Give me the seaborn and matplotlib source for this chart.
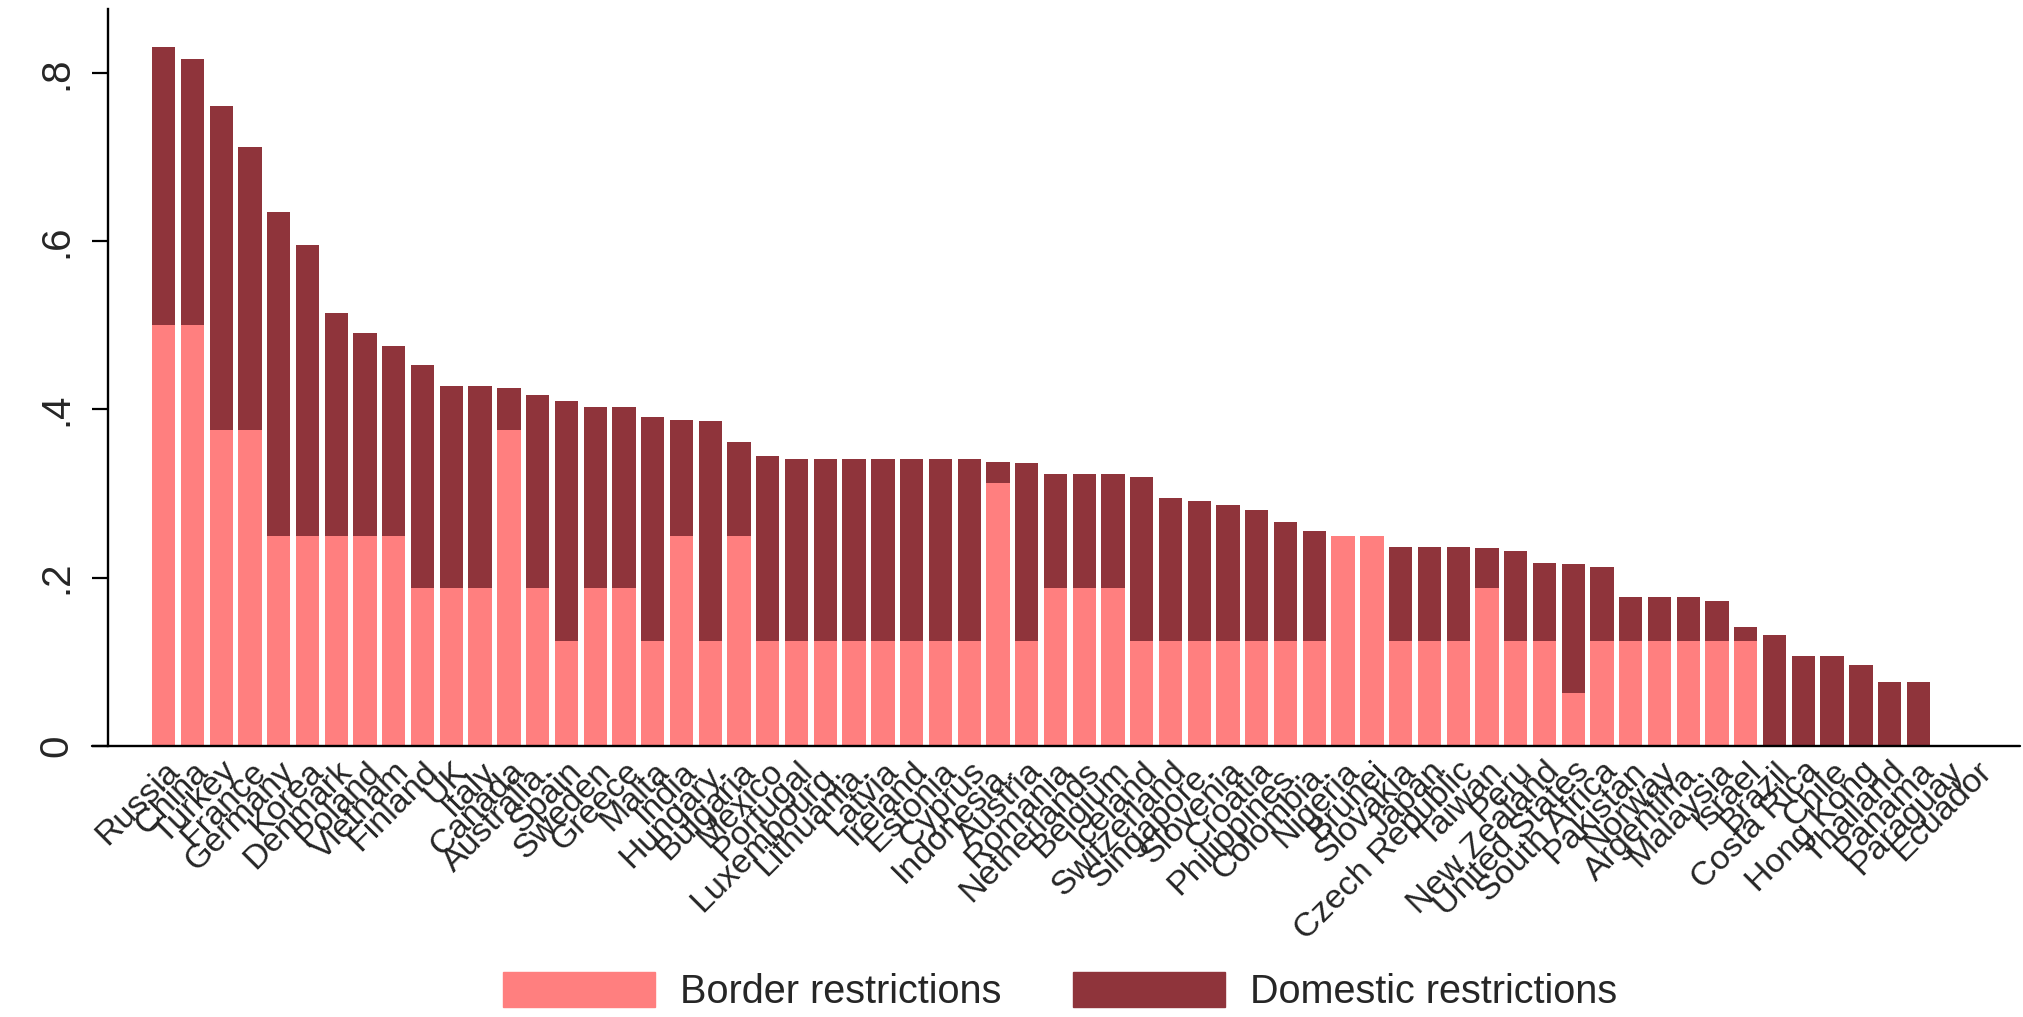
import matplotlib
matplotlib.use("Agg")
import pandas as pd
import matplotlib.pyplot as plt
import seaborn as sns
from matplotlib.patches import Patch

# Дані
countries = [
    "Russia", "China", "Turkey", "France", "Germany", "Korea", "Denmark", "Poland",
    "Vietnam", "Finland", "UK", "Italy", "Canada", "Australia.", "Spain", "Sweden",
    "Greece", "Malta", "India", "Hungary.", "Bulgaria", "Mexico", "Portugal",
    "Luxembourg.", "Lithuania.", "Latvia", "Ireland", "Estonia", "Cyprus",
    "Indonesia.", "Austria", "Romania", "Netherlands", "Belgium", "Iceland",
    "Switzerland", "Singapore.", "Slovenia", "Croatia", "Philippines.", "Colombia.",
    "Nigeria", "Brunei", "Slovakia", "Japan", "Czech Republic", "Taiwan", "Peru",
    "New Zealand", "United States", "South Africa", "Pakistan", "Norway",
    "Argentina.", "Malaysia", "Israel", "Brazil", "Costa Rica", "Chile",
    "Hong Kong", "Thailand", "Panama", "Paraguay", "Ecuador",
]
border = [
    0.5, 0.5, 0.375, 0.375, 0.25, 0.25, 0.25, 0.25,
    0.25, 0.1875, 0.1875, 0.1875, 0.375, 0.1875, 0.125, 0.1875,
    0.1875, 0.125, 0.25, 0.125, 0.25, 0.125, 0.125,
    0.125, 0.125, 0.125, 0.125, 0.125, 0.125,
    0.3125, 0.125, 0.1875, 0.1875, 0.1875, 0.125,
    0.125, 0.125, 0.125, 0.125, 0.125, 0.125,
    0.25, 0.25, 0.125, 0.125, 0.125, 0.1875, 0.125,
    0.125, 0.0625, 0.125, 0.125, 0.125,
    0.125, 0.125, 0.125, 0.0, 0.0, 0.0,
    0.0, 0.0, 0.0, 0.0, 0.0,
]
domestic = [
    0.331, 0.316, 0.386, 0.337, 0.385, 0.346, 0.265, 0.241,
    0.226, 0.2655, 0.2405, 0.2405, 0.05, 0.2295, 0.285, 0.2155,
    0.2155, 0.266, 0.137, 0.261, 0.111, 0.22, 0.216,
    0.216, 0.216, 0.216, 0.216, 0.216, 0.216,
    0.0255, 0.211, 0.1355, 0.1355, 0.1355, 0.195,
    0.17, 0.166, 0.161, 0.156, 0.141, 0.131,
    0.0, 0.0, 0.112, 0.112, 0.112, 0.048, 0.107,
    0.092, 0.1535, 0.088, 0.052, 0.052,
    0.052, 0.047, 0.0166, 0.1316, 0.1064, 0.1064,
    0.0964, 0.0764, 0.0764, 0.0, 0.0,
]
yticks = [0, 0.2, 0.4, 0.6, 0.8]
ytick_labels = ["0", ".2", ".4", ".6", ".8"]
series_labels = ["Border restrictions", "Domestic restrictions"]

pink = "#FF7F7F"
dark = "#8F343B"

df = pd.DataFrame({"country": countries, "border": border, "domestic": domestic})
df["total"] = df["border"] + df["domestic"]

sns.set_theme(style="white")
plt.rcParams["font.family"] = ["Liberation Sans", "DejaVu Sans"]

fig = plt.figure(figsize=(20.23, 10.17), dpi=100)
ax = fig.add_axes([0.0532, 0.2665, 0.9453, 0.7244])

# Стовпці: спочатку загальна висота (темні), потім обмеження на кордоні (рожеві)
sns.barplot(data=df, x="country", y="total", order=countries, color=dark,
            saturation=1, width=0.81, errorbar=None, linewidth=0, ax=ax)
sns.barplot(data=df, x="country", y="border", order=countries, color=pink,
            saturation=1, width=0.81, errorbar=None, linewidth=0, ax=ax)

ax.set_xlim(-1.95, 64.53)
ax.set_ylim(0, 0.8757)
ax.set_xlabel("")
ax.set_ylabel("")

ax.set_xticks(range(len(countries)))
ax.set_xticklabels(countries, rotation=45, ha="right", rotation_mode="anchor", fontsize=24.5)
ax.tick_params(axis="x", length=0, pad=7)

ax.set_yticks(yticks)
ax.set_yticklabels(ytick_labels, rotation=90, va="center", fontsize=29)
ax.tick_params(axis="y", left=True, length=11.5, width=1.6, pad=12,
               color="black", direction="out")

for side in ["top", "right", "bottom"]:
    ax.spines[side].set_visible(False)
ax.spines["left"].set_color("black")
ax.spines["left"].set_linewidth(1.7)
ax.axhline(0, xmin=-16 / 1912, xmax=1, color="black", lw=1.7, clip_on=False, zorder=5)

handles = [Patch(color=pink, label=series_labels[0]),
           Patch(color=dark, label=series_labels[1])]
fig.legend(handles=handles, loc="center", bbox_to_anchor=(0.524, 0.0246), ncol=2,
           frameon=False, fontsize=28.5, handlelength=3.84, handleheight=0.98,
           handletextpad=0.63, columnspacing=1.82, borderpad=0)

fig.savefig("out.png", dpi=100)
